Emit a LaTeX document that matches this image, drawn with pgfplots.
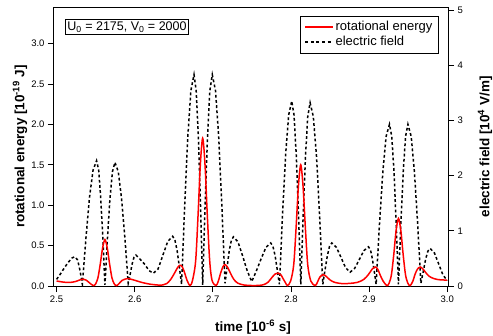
\documentclass[border=0pt]{standalone}
\usepackage{fontspec}
\setmainfont{Liberation Sans}
\usepackage{pgfplots}
\pgfplotsset{compat=1.18}
\begin{document}
\begin{tikzpicture}
\pgfplotsset{
  every axis/.append style={
    scale only axis, width=394pt, height=278.7pt,
    xmin=2.4967, xmax=3.001,
    tick align=outside, major tick length=6pt,
    axis line style={line width=1pt},
    every tick/.style={black, line width=0.9pt},
    tick label style={font=\fontsize{9.5}{11}\selectfont},
    /pgf/number format/assume math mode=true,
    label style={font=\fontsize{13.5}{15}\selectfont\bfseries},
  }
}
% electric field on the right axis
\begin{axis}[
  axis x line=none, axis y line*=right,
  ymin=0, ymax=5.049, ytick={0,1,2,3,4,5},
  ylabel={electric field [10\textsuperscript{4} V/m]},
  ylabel style={at={(axis description cs:1.094,0.5)}, anchor=center},
]
\addplot[black, line width=1.5pt, dash pattern=on 2.8pt off 2.4pt] coordinates {
(2.500,0.12) (2.505,0.22) (2.510,0.33) (2.515,0.43) (2.520,0.51) (2.5234,0.53) (2.527,0.47) (2.530,0.28) (2.533,0.03)
(2.5376,0.87) (2.5421,1.60) (2.5467,2.10) (2.5512,2.27) (2.5539,2.10) (2.5565,1.60) (2.5592,0.87) (2.5619,0.02)
(2.5651,0.86) (2.5683,1.58) (2.5715,2.07) (2.5747,2.24) (2.5790,2.07) (2.5832,1.58) (2.5875,0.86) (2.5917,0.05)
(2.5942,0.21) (2.5967,0.40) (2.5991,0.52) (2.6016,0.56) (2.6072,0.48) (2.6127,0.395) (2.6183,0.28) (2.6238,0.23)
(2.6300,0.31) (2.6362,0.565) (2.6424,0.81) (2.6486,0.90) (2.6515,0.83) (2.6543,0.64) (2.6572,0.34) (2.6600,0.03)
(2.6640,1.47) (2.6680,2.71) (2.6719,3.54) (2.6759,3.83) (2.6787,3.54) (2.6815,2.71) (2.6842,1.47) (2.6870,0.02)
(2.6901,1.47) (2.6932,2.71) (2.6962,3.54) (2.6993,3.83) (2.7034,3.54) (2.7075,2.71) (2.7115,1.47) (2.7156,0.05)
(2.7183,0.34) (2.7209,0.63) (2.7236,0.82) (2.7263,0.89) (2.7322,0.80) (2.7380,0.55) (2.7439,0.28) (2.7498,0.08)
(2.7559,0.28) (2.7620,0.50) (2.7680,0.70) (2.7741,0.78) (2.7769,0.72) (2.7797,0.55) (2.7824,0.30) (2.7852,0.03)
(2.7892,1.28) (2.7931,2.37) (2.7971,3.10) (2.8010,3.35) (2.8039,3.10) (2.8068,2.37) (2.8097,1.28) (2.8126,0.03)
(2.8156,1.27) (2.8186,2.35) (2.8215,3.07) (2.8245,3.32) (2.8286,3.07) (2.8327,2.35) (2.8367,1.27) (2.8408,0.03)
(2.8437,0.30) (2.8466,0.55) (2.8494,0.72) (2.8523,0.78) (2.8582,0.70) (2.8640,0.52) (2.8699,0.33) (2.8757,0.25)
(2.8816,0.32) (2.8875,0.48) (2.8933,0.64) (2.8992,0.71) (2.9017,0.66) (2.9041,0.50) (2.9066,0.27) (2.9090,0.03)
(2.9133,1.12) (2.9176,2.07) (2.9218,2.71) (2.9261,2.93) (2.9290,2.71) (2.9319,2.07) (2.9347,1.12) (2.9376,0.03)
(2.9406,1.12) (2.9437,2.07) (2.9467,2.71) (2.9497,2.93) (2.9539,2.71) (2.9580,2.07) (2.9622,1.12) (2.9663,0.05)
(2.9693,0.26) (2.9723,0.48) (2.9752,0.63) (2.9782,0.68) (2.9836,0.60) (2.9891,0.40) (2.9945,0.20) (3.0000,0.10)
};
\end{axis}
% rotational energy on the left axis
\begin{axis}[
  name=ax,
  ymin=0, ymax=3.451,
  xtick={2.5,2.6,2.7,2.8,2.9,3.0},
  ytick={0,0.5,1,1.5,2,2.5,3},
  xtick pos=left, ytick pos=left,
  xticklabel style={/pgf/number format/.cd, fixed, fixed zerofill, precision=1},
  yticklabel style={/pgf/number format/.cd, fixed, fixed zerofill, precision=1},
  xlabel={time [10\textsuperscript{-6} s]},
  ylabel={rotational energy [10\textsuperscript{-19} J]},
  xlabel style={at={(axis description cs:0.505,-0.147)}, anchor=center},
  ylabel style={at={(axis description cs:-0.0863,0.5)}, anchor=center},
  legend style={at={(0.975,0.969)}, anchor=north east,
    font=\fontsize{13}{15}\selectfont, inner xsep=4pt, inner ysep=3pt, row sep=0pt,
    nodes={inner sep=1.5pt, text height=9.5pt, text depth=3pt}},
  legend cell align=left,
  legend image code/.code={\draw[#1] (0pt,0pt) -- (28pt,0pt);},
]
\addlegendimage{red, line width=1.5pt}
\addlegendentry{rotational energy}
\addlegendimage{black, line width=1.8pt, dash pattern=on 3pt off 2.6pt}
\addlegendentry{electric field}
\addplot[red, line width=1.5pt, smooth, tension=0.5, forget plot] coordinates {
(2.500,0.062) (2.506,0.052) (2.512,0.045) (2.518,0.045) (2.524,0.055) (2.529,0.072) (2.534,0.085) (2.538,0.072) (2.542,0.04) (2.547,0.005)
(2.5499,0.025) (2.5529,0.10) (2.5559,0.27) (2.5589,0.47) (2.5619,0.575) (2.5649,0.47) (2.5679,0.27) (2.5709,0.10) (2.5739,0.025) (2.5769,0.005)
(2.580,0.03) (2.584,0.07) (2.5905,0.092) (2.596,0.082) (2.602,0.065) (2.610,0.042) (2.620,0.022) (2.630,0.012) (2.636,0.013)
(2.641,0.03) (2.646,0.08) (2.651,0.16) (2.655,0.23) (2.658,0.257) (2.661,0.235) (2.664,0.16) (2.667,0.07) (2.6708,0.005)
(2.674,0.07) (2.678,0.31) (2.681,0.86) (2.684,1.50) (2.687,1.83) (2.690,1.50) (2.693,0.86) (2.696,0.31) (2.699,0.07) (2.704,0.005)
(2.707,0.06) (2.710,0.16) (2.713,0.24) (2.7156,0.265) (2.719,0.23) (2.723,0.15) (2.727,0.08) (2.732,0.035) (2.740,0.012) (2.750,0.006)
(2.760,0.008) (2.766,0.02) (2.771,0.05) (2.776,0.11) (2.780,0.15) (2.7839,0.16) (2.787,0.14) (2.790,0.09) (2.793,0.04) (2.7955,0.005)
(2.7995,0.06) (2.8035,0.26) (2.8065,0.71) (2.8095,1.23) (2.8125,1.50) (2.8155,1.23) (2.8185,0.71) (2.8215,0.26) (2.8255,0.06) (2.831,0.005)
(2.834,0.05) (2.837,0.11) (2.841,0.14) (2.845,0.12) (2.850,0.075) (2.856,0.045) (2.865,0.03) (2.875,0.032) (2.885,0.045)
(2.893,0.08) (2.899,0.14) (2.904,0.21) (2.9078,0.235) (2.911,0.21) (2.914,0.14) (2.918,0.06) (2.9228,0.005)
(2.9256,0.035) (2.9286,0.14) (2.9316,0.39) (2.9346,0.69) (2.9376,0.836) (2.9406,0.69) (2.9436,0.39) (2.9466,0.14) (2.9496,0.035) (2.9526,0.005)
(2.956,0.06) (2.959,0.15) (2.962,0.21) (2.9654,0.235) (2.969,0.21) (2.973,0.16) (2.977,0.12) (2.982,0.095) (2.988,0.08) (2.994,0.075) (3.000,0.073)
};
\node[draw=black, line width=0.8pt, anchor=north west, inner sep=2pt,
  font=\fontsize{12.5}{14}\selectfont] at (rel axis cs:0.028,0.957)
  {U\textsubscript{0} = 2175, V\textsubscript{0} = 2000};
\end{axis}
\pgfresetboundingbox
\path[use as bounding box] ([xshift=-54pt,yshift=-49pt]ax.south west)
  rectangle ([xshift=45pt,yshift=7.3pt]ax.north east);
\end{tikzpicture}
\end{document}
